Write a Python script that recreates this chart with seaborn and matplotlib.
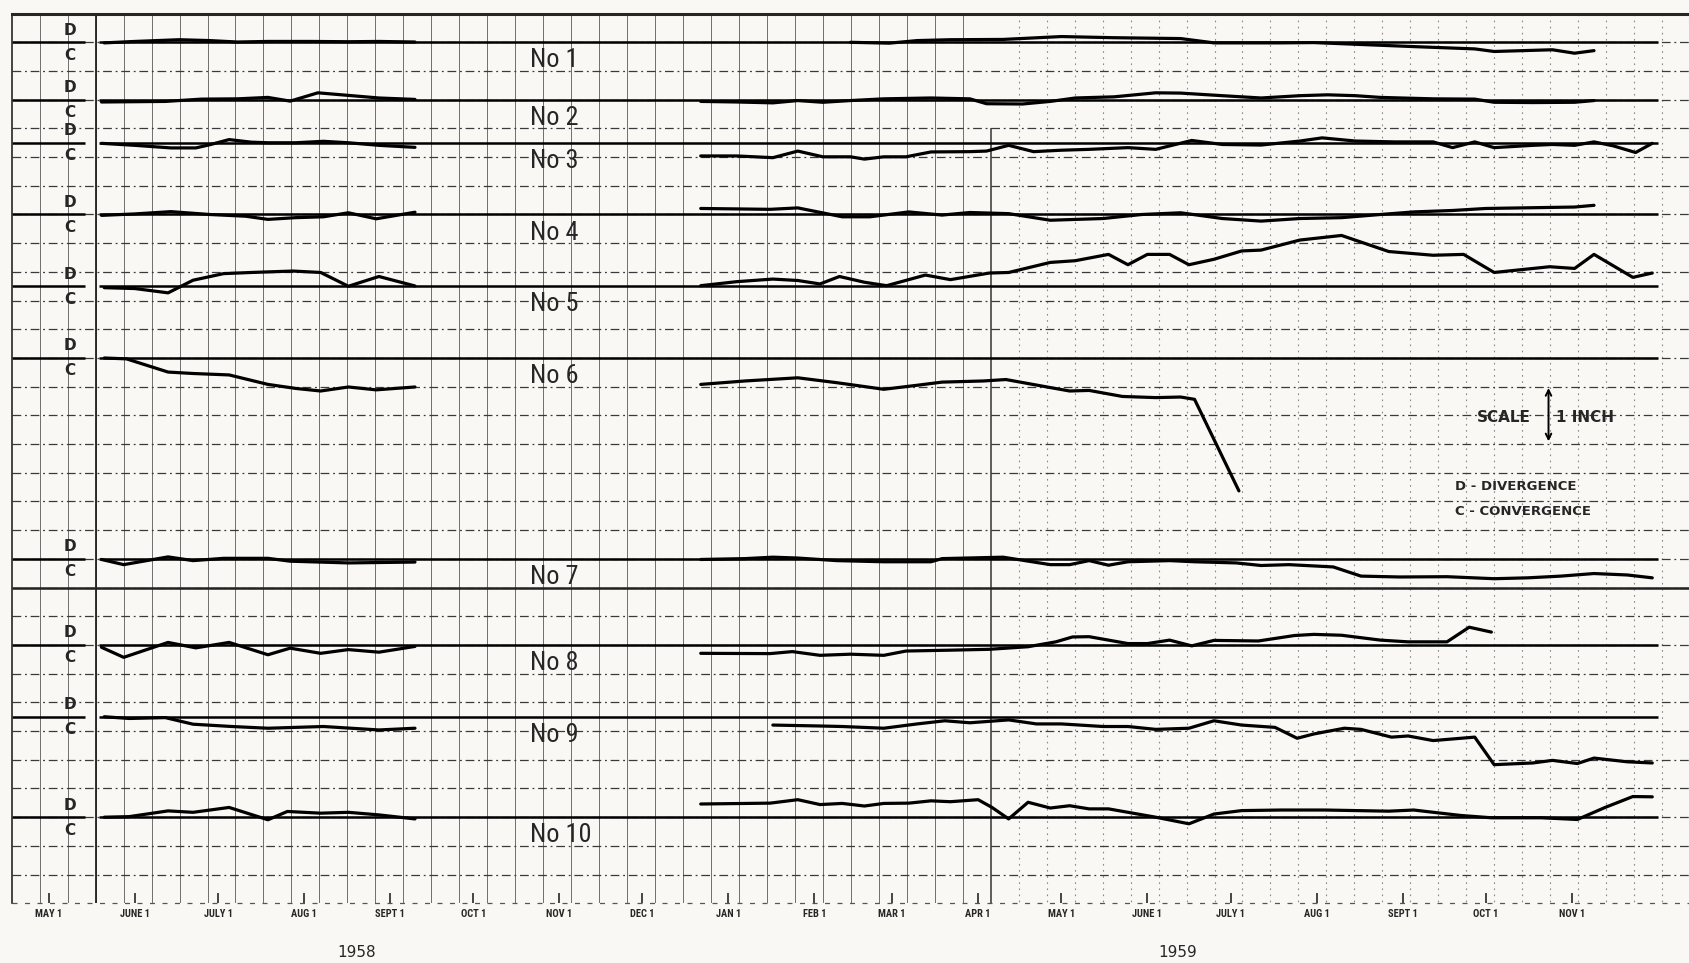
import numpy as np
import pandas as pd
import matplotlib
matplotlib.use("Agg")
import matplotlib.pyplot as plt
import seaborn as sns

# x = days after 1 May 1958, d = divergence (+) / convergence (-) in grid rows
no1_1958_x = [20, 31, 47, 58, 68, 79, 95, 108, 119, 132]
no1_1958_d = [-0.02, 0.03, 0.09, 0.06, 0.01, 0.03, 0.03, 0.02, 0.03, 0.01]
no1_1959_x = [289, 303, 313, 325, 344, 365, 384, 408, 420, 444, 456, 492, 514, 521, 542, 550, 557]
no1_1959_d = [0.0, -0.03, 0.06, 0.09, 0.10, 0.20, 0.16, 0.13, -0.02, -0.02, -0.01, -0.15, -0.23, -0.32, -0.26, -0.38, -0.29]

no2_1958_x = [19, 31, 42, 55, 68, 79, 87, 97, 108, 119, 132]
no2_1958_d = [-0.08, -0.07, -0.06, 0.02, 0.03, 0.08, -0.05, 0.24, 0.15, 0.06, 0.01]
no2_1959_x = [235, 248, 261, 270, 279, 289, 301, 318, 332, 338, 351, 361, 370, 384, 399, 408, 423, 437,
              451, 461, 471, 480, 499, 514, 521, 535, 550, 557]
no2_1959_d = [-0.06, -0.08, -0.11, -0.03, -0.09, -0.03, 0.03, 0.06, 0.03, -0.14, -0.15, -0.06, 0.06, 0.10,
              0.24, 0.23, 0.14, 0.06, 0.14, 0.17, 0.14, 0.08, 0.03, 0.02, -0.09, -0.10, -0.09, -0.03]

no3_1958_x = [19, 31, 44, 53, 58, 65, 73, 79, 89, 99, 108, 119, 132]
no3_1958_d = [-0.02, -0.09, -0.18, -0.18, -0.07, 0.11, 0.02, 0.0, 0.0, 0.05, 0.0, -0.09, -0.16]
no3_1959_x = [235, 248, 261, 270, 279, 289, 294, 301, 309, 318, 332, 338, 346, 355, 365, 375, 389, 399,
              412, 423, 437, 451, 459, 471, 485, 499, 506, 514, 521, 535, 542, 550, 557, 564, 572, 578]
no3_1959_d = [-0.46, -0.46, -0.52, -0.29, -0.49, -0.49, -0.57, -0.49, -0.49, -0.32, -0.31, -0.29, -0.09,
              -0.31, -0.26, -0.23, -0.17, -0.23, 0.08, -0.06, -0.08, 0.06, 0.17, 0.06, 0.03, 0.03, -0.17,
              0.03, -0.17, -0.09, -0.06, -0.09, 0.03, -0.11, -0.34, -0.02]

no4_1958_x = [19, 31, 44, 58, 71, 79, 89, 99, 108, 118, 132]
no4_1958_d = [-0.03, 0.02, 0.10, 0.0, -0.06, -0.17, -0.11, -0.08, 0.06, -0.15, 0.08]
no4_1959_x = [235, 260, 270, 286, 296, 310, 322, 332, 346, 361, 380, 394, 408, 423, 437, 451, 466, 480,
              492, 506, 518, 550, 557]
no4_1959_d = [0.21, 0.18, 0.23, -0.08, -0.08, 0.09, -0.02, 0.07, 0.03, -0.20, -0.14, 0.0, 0.06, -0.14,
              -0.23, -0.14, -0.11, 0.0, 0.09, 0.14, 0.21, 0.26, 0.32]

no5_1958_x = [20, 31, 43, 52, 63, 73, 88, 98, 108, 119, 132]
no5_1958_d = [-0.05, -0.08, -0.23, 0.21, 0.44, 0.48, 0.53, 0.48, 0.0, 0.34, 0.01]
no5_1959_x = [235, 248, 261, 270, 278, 285, 294, 302, 316, 325, 339, 346, 361, 370, 382, 389, 396, 404,
              411, 420, 430, 437, 451, 466, 483, 499, 510, 521, 541, 550, 557, 571, 578]
no5_1959_d = [0.02, 0.16, 0.25, 0.20, 0.08, 0.34, 0.14, 0.02, 0.39, 0.23, 0.46, 0.48, 0.83, 0.89, 1.11,
              0.75, 1.11, 1.11, 0.75, 0.94, 1.23, 1.26, 1.61, 1.77, 1.21, 1.08, 1.11, 0.48, 0.68, 0.62,
              1.11, 0.31, 0.46]

no6_1958_x = [20, 28, 43, 52, 65, 79, 89, 98, 108, 118, 132]
no6_1958_d = [0.0, -0.03, -0.49, -0.54, -0.59, -0.92, -1.06, -1.15, -1.01, -1.11, -1.01]
no6_1959_x = [235, 251, 270, 284, 301, 313, 322, 337, 345, 361, 368, 375, 387, 399, 408, 413, 429]
no6_1959_d = [-0.92, -0.80, -0.69, -0.86, -1.09, -0.95, -0.84, -0.80, -0.75, -1.03, -1.15, -1.13, -1.34,
              -1.38, -1.36, -1.44, -4.63]

no7_1958_x = [19, 27, 43, 52, 63, 79, 87, 108, 132]
no7_1958_d = [-0.02, -0.20, 0.07, -0.06, 0.02, 0.02, -0.08, -0.14, -0.11]
no7_1959_x = [235, 251, 261, 270, 284, 301, 318, 322, 344, 361, 368, 375, 382, 389, 404, 413, 428, 437,
              447, 463, 473, 487, 504, 521, 533, 545, 557, 569, 578]
no7_1959_d = [-0.02, 0.01, 0.06, 0.03, -0.06, -0.10, -0.10, 0.01, 0.06, -0.20, -0.20, -0.06, -0.22, -0.10,
              -0.06, -0.10, -0.14, -0.23, -0.20, -0.28, -0.60, -0.63, -0.62, -0.69, -0.66, -0.60, -0.51,
              -0.56, -0.66]

no8_1958_x = [19, 27, 43, 53, 65, 79, 87, 98, 108, 119, 132]
no8_1958_d = [-0.08, -0.43, 0.09, -0.10, 0.09, -0.34, -0.11, -0.29, -0.16, -0.25, -0.05]
no8_1959_x = [235, 260, 268, 278, 289, 301, 309, 325, 339, 353, 363, 369, 375, 389, 396, 404, 412, 420,
              436, 449, 456, 466, 480, 490, 504, 512, 520]
no8_1959_d = [-0.29, -0.30, -0.23, -0.36, -0.32, -0.36, -0.21, -0.18, -0.15, -0.06, 0.11, 0.28, 0.29,
              0.05, 0.05, 0.17, -0.03, 0.16, 0.14, 0.33, 0.37, 0.34, 0.17, 0.11, 0.11, 0.62, 0.45]

no9_1958_x = [20, 29, 42, 52, 66, 79, 99, 119, 132]
no9_1958_d = [0.0, -0.06, -0.03, -0.26, -0.34, -0.40, -0.34, -0.46, -0.40]
no9_1959_x = [261, 277, 286, 301, 313, 323, 332, 346, 356, 365, 380, 389, 399, 411, 420, 430, 442, 450,
              456, 467, 473, 484, 490, 499, 514, 521, 535, 542, 551, 557, 569, 578]
no9_1959_d = [-0.29, -0.32, -0.34, -0.40, -0.25, -0.14, -0.21, -0.11, -0.25, -0.25, -0.34, -0.34, -0.44,
              -0.40, -0.14, -0.29, -0.37, -0.75, -0.60, -0.40, -0.44, -0.71, -0.67, -0.83, -0.71, -1.67,
              -1.61, -1.52, -1.63, -1.44, -1.57, -1.61]

no10_1958_x = [20, 29, 43, 52, 65, 79, 86, 98, 108, 119, 132]
no10_1958_d = [0.0, 0.02, 0.22, 0.17, 0.34, -0.09, 0.20, 0.14, 0.17, 0.08, -0.06]
no10_1959_x = [235, 260, 270, 278, 286, 294, 301, 310, 318, 325, 335, 340, 346, 353, 361, 368, 375, 382,
               399, 411, 420, 430, 444, 460, 483, 492, 509, 520, 538, 551, 561, 571, 578]
no10_1959_d = [0.46, 0.49, 0.61, 0.44, 0.48, 0.39, 0.48, 0.49, 0.57, 0.54, 0.61, 0.34, -0.06, 0.52, 0.32,
               0.40, 0.29, 0.29, 0.0, -0.23, 0.11, 0.23, 0.25, 0.25, 0.21, 0.25, 0.06, -0.02, -0.02, -0.08,
               0.34, 0.72, 0.71]

station_names = ["No 1", "No 2", "No 3", "No 4", "No 5", "No 6", "No 7", "No 8", "No 9", "No 10"]
base_rows = [1, 3, 4.5, 7, 9.5, 12, 19, 22, 24.5, 28]   # zero line of each station, grid rows from top

month_days = [0, 31, 61, 92, 123, 153, 184, 214, 245, 276, 304, 335, 365, 396, 426, 457, 488, 518, 549]
month_labels = ["MAY 1", "JUNE 1", "JULY 1", "AUG 1", "SEPT 1", "OCT 1", "NOV 1", "DEC 1", "JAN 1",
                "FEB 1", "MAR 1", "APR 1", "MAY 1", "JUNE 1", "JULY 1", "AUG 1", "SEPT 1", "OCT 1", "NOV 1"]
year_labels = ["1958", "1959"]
year_days = [111, 407]

segments = [
    (no1_1958_x, no1_1958_d, no1_1959_x, no1_1959_d),
    (no2_1958_x, no2_1958_d, no2_1959_x, no2_1959_d),
    (no3_1958_x, no3_1958_d, no3_1959_x, no3_1959_d),
    (no4_1958_x, no4_1958_d, no4_1959_x, no4_1959_d),
    (no5_1958_x, no5_1958_d, no5_1959_x, no5_1959_d),
    (no6_1958_x, no6_1958_d, no6_1959_x, no6_1959_d),
    (no7_1958_x, no7_1958_d, no7_1959_x, no7_1959_d),
    (no8_1958_x, no8_1958_d, no8_1959_x, no8_1959_d),
    (no9_1958_x, no9_1958_d, no9_1959_x, no9_1959_d),
    (no10_1958_x, no10_1958_d, no10_1959_x, no10_1959_d),
]

rows = []
for i, (x58, d58, x59, d59) in enumerate(segments):
    for tag, xs, ds in [("1958", x58, d58), ("1959", x59, d59)]:
        for xv, dv in zip(xs, ds):
            rows.append({"unit": "%d_%s" % (i, tag), "day": xv, "row": base_rows[i] - dv})
df = pd.DataFrame(rows)

sns.set_style("white")
plt.rcParams["font.family"] = ["DejaVu Sans"]
narrow = ["DejaVu Sans Condensed", "Roboto Condensed", "Liberation Sans Narrow", "DejaVu Sans"]
paper = "#f9f8f5"

fig = plt.figure(figsize=(16.9, 9.63), dpi=100)
fig.patch.set_facecolor(paper)
ax = fig.add_axes([11.7 / 1690, 1 - 903.3 / 963, 1 - 11.7 / 1690, (903.3 - 13.6) / 963])
ax.set_facecolor(paper)

# graph paper
grid_x = -13.37 + 10.083 * np.arange(1, 61)
ax.vlines(grid_x[grid_x < 339], 0, 31, color="#6e6e6e", lw=0.7, zorder=1)
ax.vlines(grid_x[grid_x > 340], 0, 31, color="#8a8a8a", lw=0.8, linestyles=(0, (1.5, 4)), zorder=1)
ax.vlines([grid_x[2]], 0, 31, color="#222222", lw=1.3, zorder=1)
ax.vlines([grid_x[34]], 4, 31, color="#333333", lw=1.1, zorder=1)
ax.hlines(np.arange(1, 31), -13.37, 591.6, color="#3a3a3a", lw=0.9,
          linestyles=(0, (7, 3, 1.5, 3)), zorder=1)
ax.hlines([31], -13.37, 591.6, color="#555555", lw=0.9,
          linestyles=(0, (4, 6)), zorder=1, clip_on=False)
ax.hlines([20], -13.37, 591.6, color="#222222", lw=1.8, zorder=2)

# zero lines and D / C marks
for i, b in enumerate(base_rows):
    ax.hlines(b, -13.37, 13.0, color="black", lw=1.8, zorder=2)
    ax.hlines(b, 18.1, 580, color="black", lw=1.8, zorder=2)
    ax.text(7.6, b - 0.42, "D", ha="center", va="center", fontsize=11, fontweight="bold")
    ax.text(7.6, b + 0.45, "C", ha="center", va="center", fontsize=11, fontweight="bold")
    ax.text(173.5, b + 0.63, station_names[i], ha="left", va="center", fontsize=19, family=narrow)

sns.lineplot(data=df, x="day", y="row", units="unit", estimator=None, sort=False,
             color="black", lw=2.3, ax=ax, zorder=3)

ax.set_xlim(-13.37, 591.6)
ax.set_ylim(31, 0)
ax.set_xticks(month_days)
ax.set_xticklabels(month_labels, fontsize=7.5, fontweight="bold", family=narrow)
ax.tick_params(axis="x", direction="in", length=7, width=1.2, pad=4, bottom=True)
ax.set_yticks([])
ax.set_xlabel("")
ax.set_ylabel("")
for s in ["right", "bottom"]:
    ax.spines[s].set_visible(False)
ax.spines["top"].set_linewidth(2.2)
ax.spines["left"].set_linewidth(1.2)

for lab, d in zip(year_labels, year_days):
    ax.text(d, 32.7, lab, ha="center", va="center", fontsize=11, clip_on=False)

# scale note
ax.text(514.8, 14.07, "SCALE", ha="left", va="center", fontsize=11, fontweight="bold")
ax.annotate("", xy=(540.6, 12.95), xytext=(540.6, 15.0),
            arrowprops=dict(arrowstyle="<->", lw=1.4, color="black", mutation_scale=10))
ax.text(543.2, 14.07, "1 INCH", ha="left", va="center", fontsize=11, fontweight="bold")
ax.text(506.9, 16.46, "D - DIVERGENCE", ha="left", va="center", fontsize=9.5, fontweight="bold")
ax.text(506.9, 17.36, "C - CONVERGENCE", ha="left", va="center", fontsize=9.5, fontweight="bold")

fig.savefig("out.png", dpi=100, facecolor=paper)
plt.close(fig)
